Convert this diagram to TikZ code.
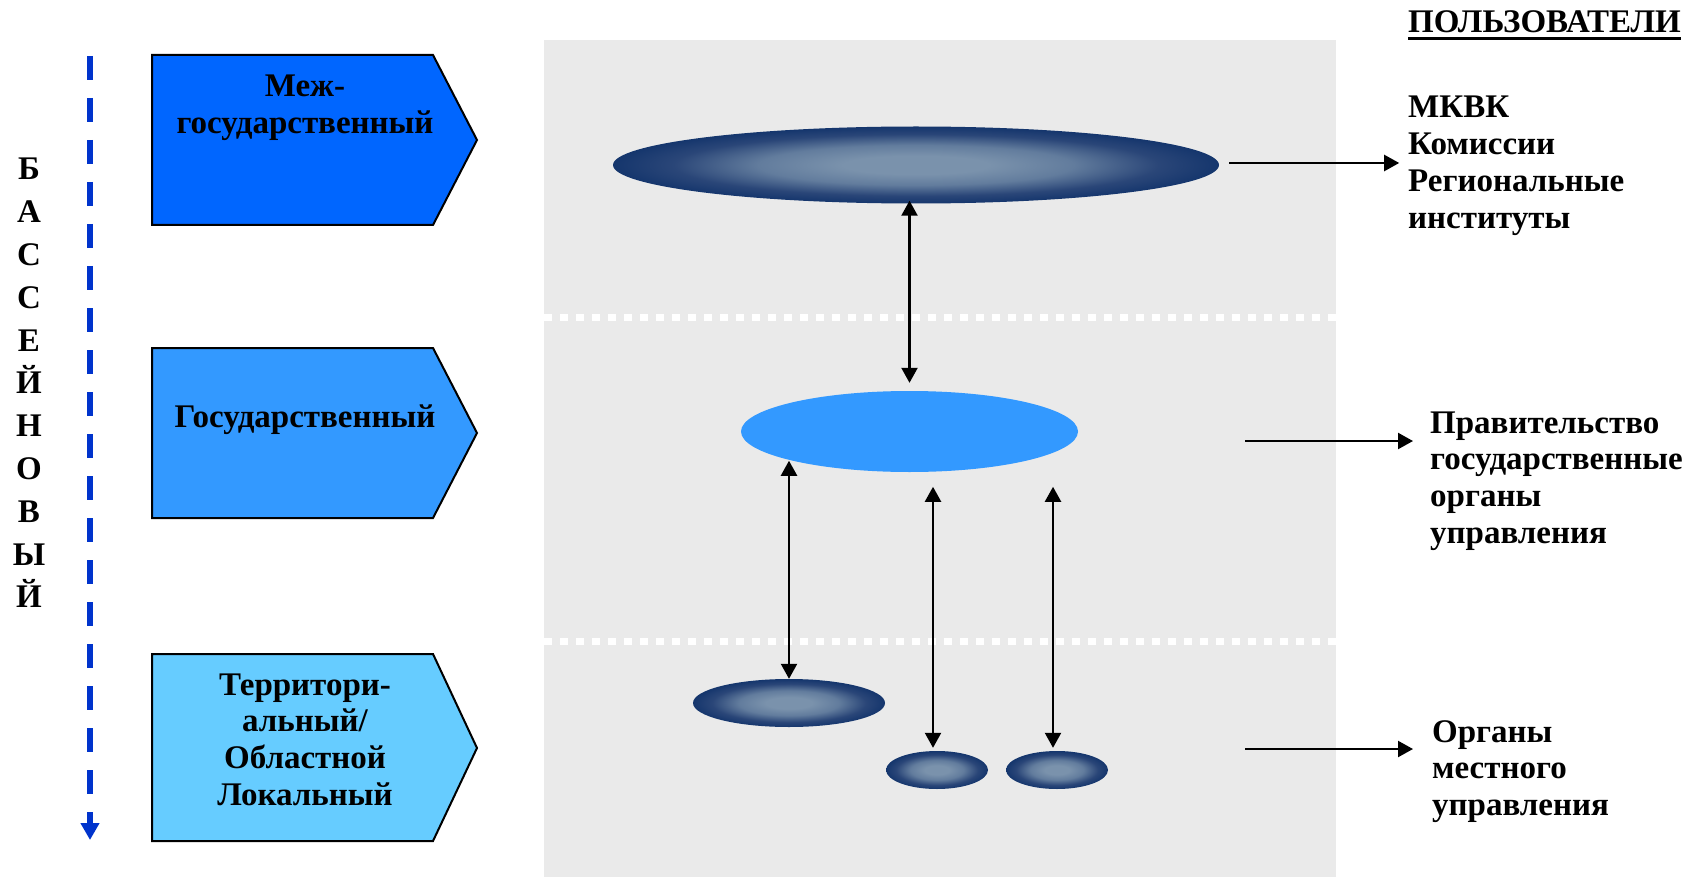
\documentclass[tikz,border=0pt]{standalone}
\usepackage{fontspec}
\setmainfont{Liberation Serif}
\usetikzlibrary{shapes.geometric,arrows.meta}
\definecolor{cA}{RGB}{0,102,255}
\definecolor{cB}{RGB}{51,153,255}
\definecolor{cC}{RGB}{102,204,255}
\definecolor{bggray}{RGB}{234,234,234}
\definecolor{dashblue}{RGB}{0,51,204}
\definecolor{elllight}{RGB}{122,146,172}
\definecolor{ellmidA}{RGB}{98,124,157}
\definecolor{ellmidB}{RGB}{42,70,120}
\definecolor{elldark}{RGB}{8,44,102}
\pgfdeclareradialshading{navyglow}{\pgfpoint{0bp}{0bp}}{color(0bp)=(elllight); color(6bp)=(elllight); color(13bp)=(ellmidA); color(20bp)=(ellmidB); color(28bp)=(elldark); color(50bp)=(elldark)}
\newcommand\bigtxt{\fontsize{33}{36.7}\selectfont\bfseries}
\newcommand\vtxt{\fontsize{33}{42.8}\selectfont\bfseries}
\begin{document}
\begin{tikzpicture}[x=1pt,y=-1pt,
  lvlbox/.style={draw=black, line width=2pt, line join=miter},
  txt/.style={inner sep=0pt, font=\bigtxt},
  ellnode/.style={ellipse, inner sep=0pt, draw=none, shade, shading=navyglow},
  dbl/.style={line width=2.2pt, {Triangle[length=15pt,width=16pt]}-{Triangle[length=15pt,width=16pt]}},
  arr/.style={line width=2.2pt, -{Triangle[length=15pt,width=16pt]}},
  dotwhite/.style={white, line width=7pt, dash pattern=on 7.5pt off 8.5pt}]
\useasboundingbox (0,0) rectangle (1688,877);
% grey panel
\fill[bggray] (544,40) rectangle (1336,877);
\draw[dotwhite] (544,317) -- (1336,317);
\draw[dotwhite] (544,641) -- (1336,641);

% level boxes
\path[lvlbox, fill=cA] (152,55) -- (433,55) -- (477,140) -- (433,225) -- (152,225) -- cycle;
\path[lvlbox, fill=cB] (152,348) -- (433,348) -- (477,433) -- (433,518) -- (152,518) -- cycle;
\path[lvlbox, fill=cC] (152,654) -- (433,654) -- (477,748) -- (433,841) -- (152,841) -- cycle;
\node[txt, anchor=base] (t1) at (305,97) {\begin{tabular}[t]{@{}c@{}}Меж-\\государственный\end{tabular}};
\node[txt, anchor=base] (t2) at (305,427) {Государственный};
\node[txt, anchor=base] (t3) at (305,695) {\begin{tabular}[t]{@{}c@{}}Территори-\\альный/\\Областной\\Локальный\end{tabular}};

% vertical word and dashed arrow
\node[inner sep=0pt, font=\vtxt, anchor=base] (bas) at (29,180) {\begin{tabular}[t]{@{}c@{}}Б\\А\\С\\С\\Е\\Й\\Н\\О\\В\\Ы\\Й\end{tabular}};
\coordinate (dtop) at (90,56);
\coordinate (dbot) at (90,840);
\draw[dashblue, line width=6pt, dash pattern=on 24pt off 18pt, -{Triangle[length=17pt,width=18pt]}] (dtop) -- (dbot);

% ellipses
\node[ellnode, minimum width=606pt, minimum height=77pt] (e1) at (916,165) {};
\node[ellipse, fill=cB, draw=none, inner sep=0pt, minimum width=337pt, minimum height=81pt] (e2) at (909.5,431.5) {};
\node[ellnode, minimum width=192pt, minimum height=48pt] (e3) at (789,703) {};
\node[ellnode, minimum width=102pt, minimum height=38pt] (e4) at (937,770) {};
\node[ellnode, minimum width=102pt, minimum height=38pt] (e5) at (1057,770) {};

% vertical connectors
\draw[dbl] ([yshift=3pt]e1.south -| e2.north) -- ([yshift=8pt]e2.north);
\draw[dbl] (e3.north |- e2.194) -- (e3.north);
\draw[dbl] ([xshift=-4pt,yshift=3pt]e4.north) -- ++(0,-261);
\draw[dbl] ([xshift=-4pt,yshift=3pt]e5.north) -- ++(0,-261);

% users
\node[txt, anchor=base west] (pol) at (1408,33) {ПОЛЬЗОВАТЕЛИ};
\draw[line width=3pt] ([yshift=-6pt]pol.base west) -- ([yshift=-6pt]pol.base east);
\node[txt, anchor=base west] (u1) at (1408,118) {\begin{tabular}[t]{@{}l@{}}МКВК\\Комиссии\\Региональные\\институты\end{tabular}};
\node[txt, anchor=base west] (u2) at (1430,433) {\begin{tabular}[t]{@{}l@{}}Правительство\\государственные\\органы\\управления\end{tabular}};
\node[txt, anchor=base west] (u3) at (1432,742) {\begin{tabular}[t]{@{}l@{}}Органы\\местного\\управления\end{tabular}};

\coordinate (a2s) at (1245,441);
\coordinate (a3s) at (1245,749);
\draw[arr] ([xshift=10pt,yshift=2pt]e1.east) -- ++(170,0);
\draw[arr] (a2s) -- ++(168,0);
\draw[arr] (a3s) -- ++(168,0);
\end{tikzpicture}
\end{document}
